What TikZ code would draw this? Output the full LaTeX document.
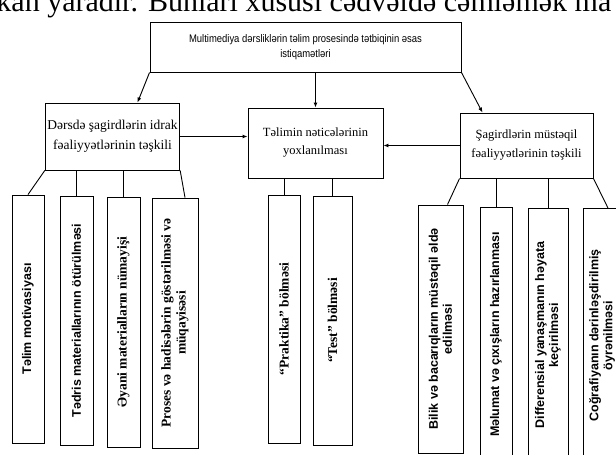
\documentclass[tikz,border=0pt]{standalone}
\usepackage{fontspec}
\setmainfont{Liberation Serif}
\setsansfont{Liberation Sans}
\newfontfamily\narrowsans[FakeStretch=0.86]{Liberation Sans}
\usetikzlibrary{arrows.meta}

\begin{document}
\begin{tikzpicture}
[x=1pt,y=-1pt,line width=0.9pt,
 box/.style={draw,align=center,inner sep=2pt,font=\fontsize{13.5}{20}\selectfont},
 vbox/.style={draw,rotate=90,align=center,inner sep=2pt,font=\bfseries\sffamily\fontsize{12.5}{14}\selectfont},
 vrbox/.style={vbox,font=\bfseries\fontsize{13.5}{15}\selectfont},
 arr/.style={-{Latex[length=5pt,width=4pt]}}]
\useasboundingbox (0,0) rectangle (616,455);
\clip (0,0) rectangle (616,455);
\node[anchor=base west,inner sep=0pt,font=\fontsize{30}{32}\selectfont] (txt) at (-4,12) {kan yaradır. Bunları xüsusi cədvəldə cəmləmək ma};
\node[box,minimum width=311,minimum height=50,font=\narrowsans\fontsize{11}{15}\selectfont] (t) at (305.5,47) {Multimediya dərsliklərin təlim prosesində tətbiqinin əsas\\istiqamətləri};
\node[box,minimum width=131,minimum height=67] (l) at (112.5,136.5) {Dərsdə şagirdlərin idrak\\fəaliyyətlərinin təşkili};
\node[box,minimum width=135,minimum height=70,font=\fontsize{12.5}{18}\selectfont] (m) at (315.5,143) {Təlimin nəticələrinin\\yoxlanılması};
\node[box,minimum width=133,minimum height=65,font=\fontsize{12.5}{19}\selectfont] (r) at (526.5,145.5) {Şagirdlərin müstəqil\\fəaliyyətlərinin təşkili};
\node[vbox,minimum width=248,minimum height=32] (b1) at (28,319) {Təlim motivasiyası};
\node[vbox,minimum width=249,minimum height=33] (b2) at (76.5,320.5) {Tədris materiallarının ötürülməsi};
\node[vrbox,minimum width=250,minimum height=33] (b3) at (123.5,322) {Əyani materialların nümayişi};
\node[vrbox,minimum width=250,minimum height=46] (b4) at (175,323) {Proses və hadisələrin göstərilməsi və\\müqayisəsi};
\node[vrbox,minimum width=248,minimum height=32] (b5) at (284,319) {“Praktika” bölməsi};
\node[vrbox,minimum width=249,minimum height=39] (b6) at (332.5,320.5) {“Test” bölməsi};
\node[vbox,minimum width=248,minimum height=45] (b7) at (440.5,329) {Bilik və bacarıqların müstəqil əldə\\edilməsi};
\node[vbox,minimum width=255,minimum height=32] (b8) at (496,334.5) {Məlumat və çıxışların hazırlanması};
\node[vbox,minimum width=254,minimum height=40] (b9) at (548,335) {Differensial yanaşmanın həyata\\keçirilməsi};
\node[vbox,minimum width=254,minimum height=38] (b10) at (602,335.5) {Coğrafiyanın dərinləşdirilmiş\\öyrənilməsi};
\draw[arr] (m.north |- t.south) -- (m.north);
\draw[arr] (t.south west) -- ([xshift=25pt]l.north);
\draw[arr] (t.south east) -- ([xshift=-44pt]r.north);
\draw[arr] (l.east) -- (l.east -| m.west);
\draw[arr] (r.west) -- (r.west -| m.east);
\draw (l.south west) -- (b1.east);
\draw (l.south east) -- ([xshift=10pt]b4.east);
\draw (r.south west) -- ([xshift=7pt]b7.east);
\draw (r.south east) -- ([xshift=6pt]b10.east);
\foreach \up/\low in {l/b2,l/b3,m/b5,m/b6,r/b8,r/b9}
\draw (\low.east |- \up.south) -- (\low.east);
\end{tikzpicture}
\end{document}
